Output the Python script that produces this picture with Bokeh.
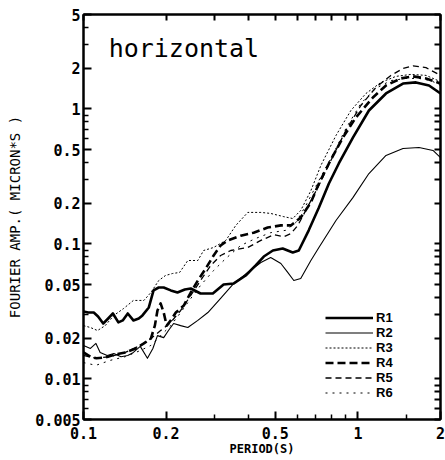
from bokeh.plotting import figure
from bokeh.models import (Range1d, FixedTicker, LogAxis, CustomJSTickFormatter,
                          Legend, LegendItem, Label)
from bokeh.embed import file_html
from bokeh.resources import INLINE

# ---------------- data ----------------
x_ticks = [0.1, 0.2, 0.5, 1, 2]
x_minor = [0.3, 0.4, 0.6, 0.7, 0.8, 0.9, 1.5]
y_ticks = [0.005, 0.01, 0.02, 0.05, 0.1, 0.2, 0.5, 1, 2, 5]
y_minor = [0.006, 0.007, 0.008, 0.009, 0.03, 0.04, 0.06, 0.07, 0.08, 0.09,
           0.3, 0.4, 0.6, 0.7, 0.8, 0.9, 3, 4]

r1_period = [0.1, 0.104, 0.109, 0.113, 0.118, 0.123, 0.128, 0.134, 0.139, 0.145,
             0.152, 0.159, 0.164, 0.173, 0.180, 0.188, 0.196, 0.208, 0.220, 0.234,
             0.246, 0.267, 0.296, 0.324, 0.353, 0.390, 0.424, 0.454, 0.490, 0.532,
             0.579, 0.609, 0.662, 0.721, 0.784, 0.852, 0.959, 1.097, 1.266, 1.460,
             1.628, 1.816, 2.0]
r1_amp = [0.0315, 0.031, 0.031, 0.029, 0.0257, 0.028, 0.0305, 0.0262, 0.0271, 0.0305,
          0.0271, 0.028, 0.0295, 0.0338, 0.0452, 0.0475, 0.0475, 0.0452, 0.0436, 0.0459,
          0.0467, 0.0429, 0.0429, 0.050, 0.0509, 0.0583, 0.0692, 0.0806, 0.0893, 0.0924,
          0.0863, 0.0893, 0.126, 0.186, 0.280, 0.394, 0.613, 0.973, 1.30, 1.54,
          1.57, 1.49, 1.30]

r2_period = [0.1, 0.106, 0.111, 0.115, 0.122, 0.129, 0.137, 0.145, 0.152, 0.161,
             0.171, 0.179, 0.186, 0.196, 0.204, 0.213, 0.226, 0.240, 0.261, 0.284,
             0.316, 0.353, 0.397, 0.443, 0.481, 0.524, 0.555, 0.584, 0.619, 0.674,
             0.721, 0.832, 0.959, 1.097, 1.266, 1.460, 1.670, 1.878, 2.0]
r2_amp = [0.0177, 0.0168, 0.0183, 0.0157, 0.0149, 0.0154, 0.0146, 0.0149, 0.0157, 0.0174,
          0.0142, 0.0168, 0.0209, 0.0202, 0.0228, 0.0257, 0.0248, 0.0240, 0.0271, 0.0310,
          0.0394, 0.0509, 0.0614, 0.0728, 0.0792, 0.0715, 0.0614, 0.0535, 0.0553, 0.0753,
          0.094, 0.149, 0.220, 0.332, 0.452, 0.509, 0.517, 0.492, 0.436]

r3_period = [0.1, 0.106, 0.1125, 0.120, 0.129, 0.140, 0.152, 0.166, 0.176, 0.188,
             0.199, 0.211, 0.224, 0.240, 0.261, 0.274, 0.298, 0.330, 0.359, 0.397,
             0.443, 0.481, 0.537, 0.579, 0.619, 0.674, 0.733, 0.832, 0.943, 1.07,
             1.213, 1.376, 1.561, 1.771, 2.0]
r3_amp = [0.0248, 0.0240, 0.0228, 0.0248, 0.0295, 0.0332, 0.0381, 0.0381, 0.0436, 0.0535,
          0.0583, 0.0603, 0.0614, 0.0753, 0.0753, 0.0893, 0.094, 0.106, 0.137, 0.171,
          0.171, 0.168, 0.159, 0.154, 0.177, 0.248, 0.381, 0.635, 0.973, 1.30,
          1.57, 1.74, 1.80, 1.77, 1.59]

r4_period = [0.1, 0.106, 0.1115, 0.120, 0.131, 0.142, 0.155, 0.166, 0.176, 0.182,
             0.186, 0.191, 0.196, 0.201, 0.208, 0.217, 0.232, 0.246, 0.261, 0.279,
             0.298, 0.316, 0.335, 0.374, 0.417, 0.469, 0.524, 0.570, 0.619, 0.674,
             0.721, 0.784, 0.882, 0.983, 1.134, 1.266, 1.435, 1.588, 1.771, 2.0]
r4_amp = [0.0157, 0.0146, 0.0142, 0.0144, 0.0152, 0.0157, 0.0168, 0.0183, 0.0199, 0.0248,
          0.0321, 0.0362, 0.031, 0.0248, 0.0271, 0.031, 0.0349, 0.0436, 0.0535, 0.0657,
          0.082, 0.0973, 0.106, 0.115, 0.121, 0.132, 0.137, 0.137, 0.157, 0.2025,
          0.280, 0.394, 0.613, 0.863, 1.214, 1.49, 1.68, 1.74, 1.68, 1.54]

r5_period = [0.1, 0.111, 0.125, 0.142, 0.161, 0.176, 0.191, 0.208, 0.226, 0.246,
             0.267, 0.291, 0.316, 0.344, 0.397, 0.443, 0.494, 0.537, 0.570, 0.604,
             0.646, 0.721, 0.797, 0.904, 1.025, 1.163, 1.319, 1.460, 1.588, 1.771, 2.0]
r5_amp = [0.0149, 0.0142, 0.0146, 0.0157, 0.0177, 0.0199, 0.0228, 0.0262, 0.0321, 0.0415,
          0.0535, 0.0692, 0.082, 0.0893, 0.094, 0.106, 0.117, 0.113, 0.119, 0.137,
          0.177, 0.271, 0.415, 0.692, 1.059, 1.44, 1.77, 1.99, 2.08, 2.02, 1.77]

r6_period = [0.1, 0.111, 0.125, 0.142, 0.161, 0.176, 0.191, 0.208, 0.226, 0.246,
             0.267, 0.298, 0.330, 0.374, 0.424, 0.481, 0.546, 0.594, 0.646, 0.721,
             0.797, 0.904, 1.025, 1.163, 1.319, 1.497, 1.670, 1.847, 2.0]
r6_amp = [0.0132, 0.0126, 0.0137, 0.0146, 0.0162, 0.0177, 0.0209, 0.0248, 0.031, 0.0394,
          0.0492, 0.0635, 0.0779, 0.0973, 0.1096, 0.121, 0.126, 0.144, 0.192, 0.295,
          0.429, 0.715, 1.096, 1.42, 1.62, 1.68, 1.68, 1.62, 1.49]

series_names = ["R1", "R2", "R3", "R4", "R5", "R6"]

# ---------------- figure ----------------
p = figure(width=445, height=460, x_axis_type="log", y_axis_type="log",
           x_range=Range1d(0.1, 2), y_range=Range1d(0.005, 5),
           output_backend="svg", toolbar_location=None,
           min_border_left=83, min_border_right=5, min_border_top=14,
           min_border_bottom=41)
p.background_fill_color = "white"
p.border_fill_color = "white"
p.grid.visible = False
p.outline_line_color = "black"
p.outline_line_width = 2

fmt = CustomJSTickFormatter(code="return tick.toString();")
mono = "DejaVu Sans Mono"


def style_axis(ax):
    ax.axis_line_color = "black"
    ax.axis_line_width = 2
    ax.major_tick_line_color = "black"
    ax.major_tick_line_width = 2
    ax.minor_tick_line_color = "black"
    ax.minor_tick_line_width = 1.5
    ax.major_tick_in = 8
    ax.major_tick_out = 0
    ax.minor_tick_in = 5
    ax.minor_tick_out = 0


xb = p.below[0]
yl = p.left[0]
for ax, ticks, minor in ((xb, x_ticks, x_minor), (yl, y_ticks, y_minor)):
    style_axis(ax)
    ax.ticker = FixedTicker(ticks=ticks, minor_ticks=minor)
    ax.formatter = fmt
    ax.major_label_text_font = mono
    ax.major_label_text_font_style = "bold"
    ax.major_label_text_font_size = "15px"
    ax.major_label_text_color = "black"
xb.major_label_standoff = 7
yl.major_label_standoff = 3

# opposite axes: ticks only (no labels)
xt = LogAxis(ticker=FixedTicker(ticks=[], minor_ticks=x_ticks + x_minor))
yr = LogAxis(ticker=FixedTicker(ticks=[], minor_ticks=y_ticks + y_minor))
for ax in (xt, yr):
    style_axis(ax)
    ax.minor_tick_in = 6
    ax.minor_tick_line_width = 2
    ax.major_label_standoff = 0
p.add_layout(xt, "above")
p.add_layout(yr, "right")

xb.axis_label = "PERIOD(S)"
xb.axis_label_text_font = mono
xb.axis_label_text_font_size = "12px"
xb.axis_label_text_font_style = "bold"
xb.axis_label_text_color = "black"
xb.axis_label_standoff = 0
yl.axis_label = "FOURIER AMP.( MICRON*S )"
yl.axis_label_text_font = mono
yl.axis_label_text_font_size = "14px"
yl.axis_label_text_font_style = "normal"
yl.axis_label_text_color = "black"
yl.axis_label_standoff = 9

# ---------------- curves ----------------
styles = [
    dict(line_width=2.6, line_dash="solid"),
    dict(line_width=1.1, line_dash="solid"),
    dict(line_width=1.0, line_dash="2 2"),
    dict(line_width=2.6, line_dash="8 4"),
    dict(line_width=1.3, line_dash="6 4"),
    dict(line_width=1.0, line_dash="2 5"),
]
data = [(r1_period, r1_amp), (r2_period, r2_amp), (r3_period, r3_amp),
        (r4_period, r4_amp), (r5_period, r5_amp), (r6_period, r6_amp)]
renderers = []
for (xs, ys), st in zip(data, styles):
    r = p.line(xs, ys, line_color="black", line_join="round", **st)
    renderers.append(r)

legend = Legend(items=[LegendItem(label=n, renderers=[r]) for n, r in zip(series_names, renderers)],
                location=(242, 19))
legend.border_line_color = None
legend.background_fill_alpha = 0
legend.padding = 0
legend.margin = 0
legend.spacing = 0
legend.glyph_width = 48
legend.glyph_height = 11
legend.label_height = 11
legend.label_standoff = 3
legend.label_text_font = "Liberation Sans"
legend.label_text_font_style = "bold"
legend.label_text_font_size = "13px"
legend.label_text_line_height = 0.8
legend.label_text_color = "black"
p.add_layout(legend)

p.add_layout(Label(x=0.1235, y=2.8, text="horizontal", text_font=mono,
                   text_font_size="25px", text_baseline="middle", text_color="black"))

open("out.html", "w").write(file_html(p, INLINE))
